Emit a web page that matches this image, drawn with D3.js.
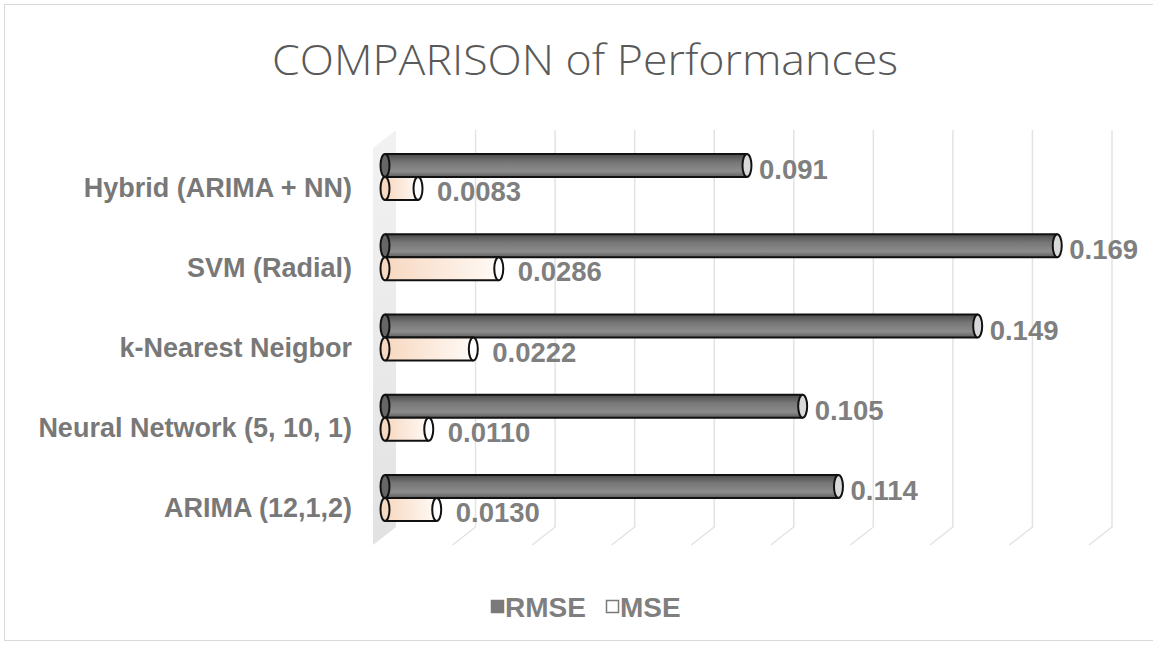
<!DOCTYPE html>
<html lang="en">
  <head>
    <meta charset="UTF-8" />
    <title>COMPARISON of Performances</title>
    <style>
      html, body { margin: 0; padding: 0; background: #fff; }
      svg { display: block; }
    </style>
    <script src="https://cdn.jsdelivr.net/npm/d3@7/dist/d3.min.js"></script>
  </head>
  <body>
    <script>
      // data, first category is drawn at the bottom (Excel order)
      const categories = [
        "ARIMA (12,1,2)",
        "Neural Network (5, 10, 1)",
        "k-Nearest Neigbor",
        "SVM (Radial)",
        "Hybrid (ARIMA + NN)",
      ];
      const rmse = [0.114, 0.105, 0.149, 0.169, 0.091];
      const mse = [0.013, 0.011, 0.0222, 0.0286, 0.0083];
      const mseLabels = ["0.0130", "0.0110", "0.0222", "0.0286", "0.0083"];
      const rmseLabels = ["0.114", "0.105", "0.149", "0.169", "0.091"];
      const seriesNames = ["RMSE", "MSE"];
      const xTicks = d3.range(0, 0.1801, 0.02);

      const width = 1153;
      const height = 647;
      const depth = { dx: 11, dy: -9 }; // bars sit half way in the 3d box

      const svg = d3
        .select(document.body)
        .append("svg")
        .attr("width", width)
        .attr("height", height);

      const defs = svg.append("defs");
      const gDark = defs
        .append("linearGradient")
        .attr("id", "rmseFill")
        .attr("x1", 0).attr("y1", 0).attr("x2", 0).attr("y2", 1);
      [["0%", "#4a4a4a"], ["35%", "#767676"], ["75%", "#8c8c8c"], ["100%", "#5c5c5c"]]
        .forEach(([o, c]) => gDark.append("stop").attr("offset", o).attr("stop-color", c));
      const gLight = defs
        .append("linearGradient")
        .attr("id", "mseFill")
        .attr("x1", 0).attr("y1", 0).attr("x2", 1).attr("y2", 0);
      [["0%", "#f7d8c0"], ["100%", "#fffaf6"]]
        .forEach(([o, c]) => gLight.append("stop").attr("offset", o).attr("stop-color", c));
      const gWall = defs
        .append("linearGradient")
        .attr("id", "wallFill")
        .attr("x1", 0).attr("y1", 1).attr("x2", 0).attr("y2", 0);
      [["0%", "#e2e2e2"], ["100%", "#f2f2f2"]]
        .forEach(([o, c]) => gWall.append("stop").attr("offset", o).attr("stop-color", c));

      // chart border
      svg
        .append("rect")
        .attr("x", 4.5)
        .attr("y", 4.5)
        .attr("width", width + 10)
        .attr("height", 636)
        .attr("fill", "#fff")
        .attr("stroke", "#d9d9d9");

      svg
        .append("text")
        .attr("x", 585)
        .attr("y", 75)
        .attr("text-anchor", "middle")
        .attr("font-family", "'Open Sans', sans-serif")
        .attr("font-weight", 300)
        .attr("font-size", 43)
        .attr("textLength", 626)
        .attr("lengthAdjust", "spacingAndGlyphs")
        .attr("fill", "#595959")
        .text("COMPARISON of Performances");

      const x = d3.scaleLinear().domain([0, 0.18]).range([385, 1101]);
      const y = d3
        .scaleBand()
        .domain([...categories].reverse())
        .range([137, 538]);
      const barH = 23;
      const y1 = d3
        .scaleBand()
        .domain(seriesNames)
        .range([y.bandwidth() / 2 - barH, y.bandwidth() / 2 + barH]);

      const backTop = 130;
      const backBottom = 527;

      // side wall
      const x0b = x(0) + depth.dx;
      svg
        .append("path")
        .attr("fill", "url(#wallFill)")
        .attr(
          "d",
          `M${x0b},${backTop}L${x0b},${backBottom}L${x0b - 23},${backBottom + 18}L${x0b - 23},${backTop + 18}Z`
        );

      // gridlines on back wall with floor diagonals
      const grid = svg.append("g").attr("stroke", "#e3e3e3").attr("stroke-width", 1.5).attr("fill", "none");
      grid
        .selectAll("path")
        .data(xTicks.slice(1))
        .join("path")
        .attr("d", (d) => {
          const xb = x(d) + depth.dx;
          return `M${xb},${backTop}L${xb},${backBottom}L${xb - 23},${backBottom + 18}`;
        });

      // category labels
      svg
        .append("g")
        .attr("font-family", "'Liberation Sans', Arial, sans-serif")
        .attr("font-weight", "bold")
        .attr("font-size", 27)
        .attr("fill", "#787878")
        .attr("text-anchor", "end")
        .selectAll("text")
        .data(categories)
        .join("text")
        .attr("x", 352)
        .attr("y", (d) => y(d) + y.bandwidth() / 2 + 10)
        .attr("dy", "0.35em")
        .text((d) => d);

      const rows = categories.map((c, i) => [
        { cat: c, key: "RMSE", value: rmse[i], label: rmseLabels[i] },
        { cat: c, key: "MSE", value: mse[i], label: mseLabels[i] },
      ]).flat();

      const rx = 4.5;
      const bars = svg
        .append("g")
        .selectAll("g")
        .data(rows)
        .join("g")
        .attr("transform", (d) => `translate(0,${y(d.cat) + y1(d.key)})`);

      bars
        .append("rect")
        .attr("x", x(0))
        .attr("y", 0)
        .attr("width", (d) => x(d.value) - x(0))
        .attr("height", y1.bandwidth())
        .attr("fill", (d) => (d.key === "RMSE" ? "url(#rmseFill)" : "url(#mseFill)"));
      bars
        .append("path")
        .attr("fill", "none")
        .attr("stroke", "#111")
        .attr("stroke-width", 2)
        .attr("d", (d) => {
          const h = y1.bandwidth();
          return `M${x(0)},0H${x(d.value)}M${x(0)},${h}H${x(d.value)}`;
        });
      bars
        .append("ellipse")
        .attr("cx", x(0))
        .attr("cy", y1.bandwidth() / 2)
        .attr("rx", rx)
        .attr("ry", y1.bandwidth() / 2)
        .attr("fill", (d) => (d.key === "RMSE" ? "#666" : "#f7d8c0"))
        .attr("stroke", "#111")
        .attr("stroke-width", 2);
      bars
        .append("ellipse")
        .attr("cx", (d) => x(d.value))
        .attr("cy", y1.bandwidth() / 2)
        .attr("rx", rx)
        .attr("ry", y1.bandwidth() / 2)
        .attr("fill", (d) => (d.key === "RMSE" ? "#d9d9d9" : "#fff"))
        .attr("stroke", "#111")
        .attr("stroke-width", 2);

      // value labels
      bars
        .append("text")
        .attr("x", (d) => x(d.value) + (d.key === "RMSE" ? 12 : 19))
        .attr("y", (d) => y1.bandwidth() / 2 + (d.key === "RMSE" ? 4 : 3))
        .attr("dy", "0.35em")
        .attr("font-family", "'Liberation Sans', Arial, sans-serif")
        .attr("font-weight", "bold")
        .attr("font-size", 27.5)
        .attr("fill", "#7f7f7f")
        .text((d) => d.label);

      // legend
      const legend = svg
        .append("g")
        .attr("font-family", "'Liberation Sans', Arial, sans-serif")
        .attr("font-weight", "bold")
        .attr("font-size", 28)
        .attr("fill", "#7f7f7f");
      const legendX = [491, 606];
      seriesNames.forEach((name, i) => {
        legend
          .append("rect")
          .attr("x", legendX[i] + 0.5)
          .attr("y", 600.5)
          .attr("width", 12)
          .attr("height", 12)
          .attr("fill", i === 0 ? "#7a7a7a" : "#fff")
          .attr("stroke", "#7a7a7a")
          .attr("stroke-width", 1.5);
        legend
          .append("text")
          .attr("x", legendX[i] + 14)
          .attr("y", 607)
          .attr("dy", "0.35em")
          .text(name);
      });
    </script>
  </body>
</html>
